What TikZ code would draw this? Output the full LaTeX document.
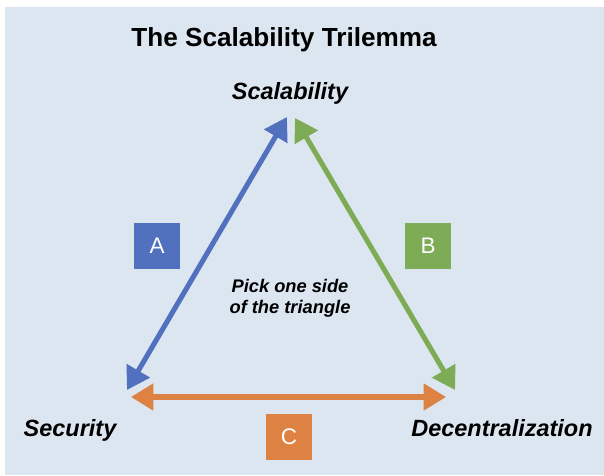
\documentclass[tikz,border=0pt]{standalone}
\usepackage{fontspec}
\setmainfont{Liberation Sans}
\usetikzlibrary{arrows.meta,positioning}

\definecolor{panel}{HTML}{DCE6F0}
\definecolor{sideA}{HTML}{5171BE}
\definecolor{sideB}{HTML}{7EAB55}
\definecolor{sideC}{HTML}{DE8244}

\begin{document}
\begin{tikzpicture}[
		corner/.style={anchor=base, font=\fontsize{16.7}{20}\selectfont\bfseries\itshape},
		side/.style={line width=3.6pt, {Triangle[length=0.56cm,width=0.65cm]}-{Triangle[length=0.56cm,width=0.65cm]}},
		tag/.style={minimum size=1.15cm, inner sep=0pt, text=white, font=\fontsize{16}{19}\selectfont}]
			\useasboundingbox (0, 0) rectangle (15.1, 11.9);
			\fill [panel] (0.125, 0.025) rectangle (15.1, 11.725);

			\node (title) [anchor=base, font=\fontsize{18.6}{22}\selectfont\bfseries] at (7.1, 10.725) {The Scalability Trilemma};
			\node (scal) [corner] at (7.25, 9.4) {Scalability};
			\node (sec) [corner] at (1.75, 0.975) {Security};
			\node (dec) [corner] at (12.55, 0.975) {Decentralization};
			\node (pick) [align=center, font=\fontsize{13}{15.2}\selectfont\bfseries\itshape] at (7.25, 4.45) {Pick one side\\of the triangle};

			\node (boxA) [tag, fill=sideA] at (3.925, 5.75) {A};
			\node (boxB) [tag, fill=sideB] at (10.7, 5.75) {B};
			\node (boxC) [tag, fill=sideC] at (7.225, 0.975) {C};

			\coordinate (scal1) at (7.175, 8.975);
			\coordinate (scal2) at (7.375, 8.95);
			\coordinate (sec1) at (3.175, 2.15);
			\coordinate (sec2) at (3.275, 1.975);
			\coordinate (dec1) at (11.375, 2.15);
			\coordinate (dec2) at (11.15, 1.975);

			\draw [side, sideA] (scal1) to (sec1);
			\draw [side, sideB] (scal2) to (dec1);
			\draw [side, sideC] (sec2) to (dec2);
	\end{tikzpicture}
\end{document}
